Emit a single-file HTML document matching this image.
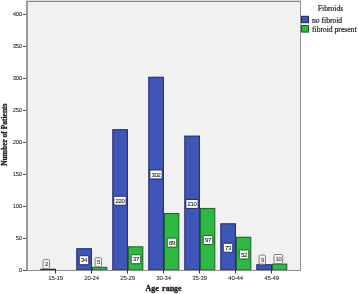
<!DOCTYPE html><html><head><meta charset="utf-8"><style>
html,body{margin:0;padding:0;background:#fff;width:358px;height:294px;overflow:hidden}
svg{display:block;will-change:transform}
.tk{font-family:"Liberation Sans",sans-serif;font-size:6px;fill:#2a2a2a;letter-spacing:-0.3px;stroke:#2a2a2a;stroke-width:0.08px}
.ti{font-family:"Liberation Serif",serif;font-weight:bold;fill:#1a1a1a;stroke:#1a1a1a;stroke-width:0.3px}
.lg{font-family:"Liberation Serif",serif;font-size:7.6px;fill:#1a1a1a;stroke:#1a1a1a;stroke-width:0.2px}
.vl{font-family:"Liberation Sans",sans-serif;font-size:6px;fill:#222;letter-spacing:-0.35px;stroke:#222;stroke-width:0.1px}
</style></head><body>
<svg width="358" height="294" viewBox="0 0 358 294">
<rect x="27" y="2" width="273" height="268" fill="#f1f1f1"/>
<rect x="26" y="0.7" width="275" height="1.3" fill="#858585"/>
<rect x="300" y="1" width="1" height="269" fill="#929292"/>
<rect x="26" y="1" width="2" height="270" fill="#9a9a9a"/>
<rect x="23" y="270" width="3" height="1" fill="#444"/>
<text class="tk" x="21.8" y="272.30" text-anchor="end">0</text>
<rect x="23" y="238" width="3" height="1" fill="#444"/>
<text class="tk" x="21.8" y="240.30" text-anchor="end">50</text>
<rect x="23" y="206" width="3" height="1" fill="#444"/>
<text class="tk" x="21.8" y="208.30" text-anchor="end">100</text>
<rect x="23" y="174" width="3" height="1" fill="#444"/>
<text class="tk" x="21.8" y="176.30" text-anchor="end">150</text>
<rect x="23" y="142" width="3" height="1" fill="#444"/>
<text class="tk" x="21.8" y="144.30" text-anchor="end">200</text>
<rect x="23" y="110" width="3" height="1" fill="#444"/>
<text class="tk" x="21.8" y="112.30" text-anchor="end">250</text>
<rect x="23" y="78" width="3" height="1" fill="#444"/>
<text class="tk" x="21.8" y="80.30" text-anchor="end">300</text>
<rect x="23" y="46" width="3" height="1" fill="#444"/>
<text class="tk" x="21.8" y="48.30" text-anchor="end">350</text>
<rect x="23" y="14" width="3" height="1" fill="#444"/>
<text class="tk" x="21.8" y="16.30" text-anchor="end">400</text>
<rect x="40.80" y="269.22" width="14.60" height="0.78" fill="#3d56b8" stroke="#1c2368" stroke-width="1"/>
<rect x="76.80" y="248.74" width="14.60" height="21.26" fill="#3d56b8" stroke="#1c2368" stroke-width="1"/>
<rect x="92.40" y="267.30" width="14.40" height="2.70" fill="#2dba43" stroke="#155e22" stroke-width="1"/>
<rect x="112.80" y="129.70" width="14.60" height="140.30" fill="#3d56b8" stroke="#1c2368" stroke-width="1"/>
<rect x="128.40" y="246.82" width="14.40" height="23.18" fill="#2dba43" stroke="#155e22" stroke-width="1"/>
<rect x="148.80" y="77.22" width="14.60" height="192.78" fill="#3d56b8" stroke="#1c2368" stroke-width="1"/>
<rect x="164.40" y="213.54" width="14.40" height="56.46" fill="#2dba43" stroke="#155e22" stroke-width="1"/>
<rect x="184.80" y="136.10" width="14.60" height="133.90" fill="#3d56b8" stroke="#1c2368" stroke-width="1"/>
<rect x="200.40" y="208.42" width="14.40" height="61.58" fill="#2dba43" stroke="#155e22" stroke-width="1"/>
<rect x="220.80" y="223.78" width="14.60" height="46.22" fill="#3d56b8" stroke="#1c2368" stroke-width="1"/>
<rect x="236.40" y="237.22" width="14.40" height="32.78" fill="#2dba43" stroke="#155e22" stroke-width="1"/>
<rect x="256.80" y="264.74" width="14.60" height="5.26" fill="#3d56b8" stroke="#1c2368" stroke-width="1"/>
<rect x="272.40" y="264.10" width="14.40" height="5.90" fill="#2dba43" stroke="#155e22" stroke-width="1"/>
<rect x="26" y="270" width="275" height="1" fill="#909090"/>
<rect x="55" y="270" width="1" height="3.5" fill="#333"/>
<text class="tk" style="letter-spacing:-0.1px" x="55.6" y="279.8" text-anchor="middle">15-19</text>
<rect x="91" y="270" width="1" height="3.5" fill="#333"/>
<text class="tk" style="letter-spacing:-0.1px" x="91.6" y="279.8" text-anchor="middle">20-24</text>
<rect x="127" y="270" width="1" height="3.5" fill="#333"/>
<text class="tk" style="letter-spacing:-0.1px" x="127.6" y="279.8" text-anchor="middle">25-29</text>
<rect x="163" y="270" width="1" height="3.5" fill="#333"/>
<text class="tk" style="letter-spacing:-0.1px" x="163.6" y="279.8" text-anchor="middle">30-34</text>
<rect x="199" y="270" width="1" height="3.5" fill="#333"/>
<text class="tk" style="letter-spacing:-0.1px" x="199.6" y="279.8" text-anchor="middle">35-39</text>
<rect x="235" y="270" width="1" height="3.5" fill="#333"/>
<text class="tk" style="letter-spacing:-0.1px" x="235.6" y="279.8" text-anchor="middle">40-44</text>
<rect x="271" y="270" width="1" height="3.5" fill="#333"/>
<text class="tk" style="letter-spacing:-0.1px" x="271.6" y="279.8" text-anchor="middle">45-49</text>
<rect x="43.10" y="259.62" width="6.40" height="9" rx="1" fill="#f4f4f4" stroke="#808080" stroke-width="1"/>
<text class="vl" x="46.40" y="266.32" text-anchor="middle" style="fill:#444;stroke:#444">2</text>
<rect x="79.20" y="255.72" width="9.60" height="9" rx="1" fill="#fff" stroke="#1c2368" stroke-width="1"/>
<text class="vl" x="84.10" y="262.42" text-anchor="middle" style="fill:#222;stroke:#222">34</text>
<rect x="95.10" y="257.70" width="6.40" height="9" rx="1" fill="#f4f4f4" stroke="#808080" stroke-width="1"/>
<text class="vl" x="98.40" y="264.40" text-anchor="middle" style="fill:#444;stroke:#444">5</text>
<rect x="113.80" y="196.20" width="12.40" height="9" rx="1" fill="#fff" stroke="#1c2368" stroke-width="1"/>
<text class="vl" x="120.10" y="202.90" text-anchor="middle" style="fill:#222;stroke:#222">220</text>
<rect x="131.20" y="254.76" width="9.60" height="9" rx="1" fill="#fff" stroke="#155e22" stroke-width="1"/>
<text class="vl" x="136.10" y="261.46" text-anchor="middle" style="fill:#222;stroke:#222">37</text>
<rect x="149.80" y="169.96" width="12.40" height="9" rx="1" fill="#fff" stroke="#1c2368" stroke-width="1"/>
<text class="vl" x="156.10" y="176.66" text-anchor="middle" style="fill:#222;stroke:#222">302</text>
<rect x="167.20" y="238.12" width="9.60" height="9" rx="1" fill="#fff" stroke="#155e22" stroke-width="1"/>
<text class="vl" x="172.10" y="244.82" text-anchor="middle" style="fill:#222;stroke:#222">89</text>
<rect x="185.80" y="199.40" width="12.40" height="9" rx="1" fill="#fff" stroke="#1c2368" stroke-width="1"/>
<text class="vl" x="192.10" y="206.10" text-anchor="middle" style="fill:#222;stroke:#222">210</text>
<rect x="203.20" y="235.56" width="9.60" height="9" rx="1" fill="#fff" stroke="#155e22" stroke-width="1"/>
<text class="vl" x="208.10" y="242.26" text-anchor="middle" style="fill:#222;stroke:#222">97</text>
<rect x="223.20" y="243.24" width="9.60" height="9" rx="1" fill="#fff" stroke="#1c2368" stroke-width="1"/>
<text class="vl" x="228.10" y="249.94" text-anchor="middle" style="fill:#222;stroke:#222">73</text>
<rect x="239.20" y="249.96" width="9.60" height="9" rx="1" fill="#fff" stroke="#155e22" stroke-width="1"/>
<text class="vl" x="244.10" y="256.66" text-anchor="middle" style="fill:#222;stroke:#222">52</text>
<rect x="259.10" y="255.14" width="6.40" height="9" rx="1" fill="#f4f4f4" stroke="#808080" stroke-width="1"/>
<text class="vl" x="262.40" y="261.84" text-anchor="middle" style="fill:#444;stroke:#444">9</text>
<rect x="273.90" y="254.50" width="8.80" height="9" rx="1" fill="#f4f4f4" stroke="#808080" stroke-width="1"/>
<text class="vl" x="278.40" y="261.20" text-anchor="middle" style="fill:#444;stroke:#444">10</text>
<text class="ti" style="font-size:8px;word-spacing:1.2px" x="163.6" y="290.7" text-anchor="middle">Age range</text>
<text class="ti" style="font-size:7.5px" transform="translate(7.0,134.7) rotate(-90)" text-anchor="middle">Number of Patients</text>
<text class="lg" x="330.5" y="11.1" text-anchor="middle">Fibroids</text>
<rect x="301.5" y="16.3" width="7" height="6.4" fill="#3d56b8" stroke="#1c2368"/>
<rect x="301.5" y="25.5" width="7" height="6.6" fill="#2dba43" stroke="#155e22"/>
<text class="lg" x="312" y="22.6">no fibroid</text>
<text class="lg" x="312" y="31.6">fibroid present</text>
</svg></body></html>
